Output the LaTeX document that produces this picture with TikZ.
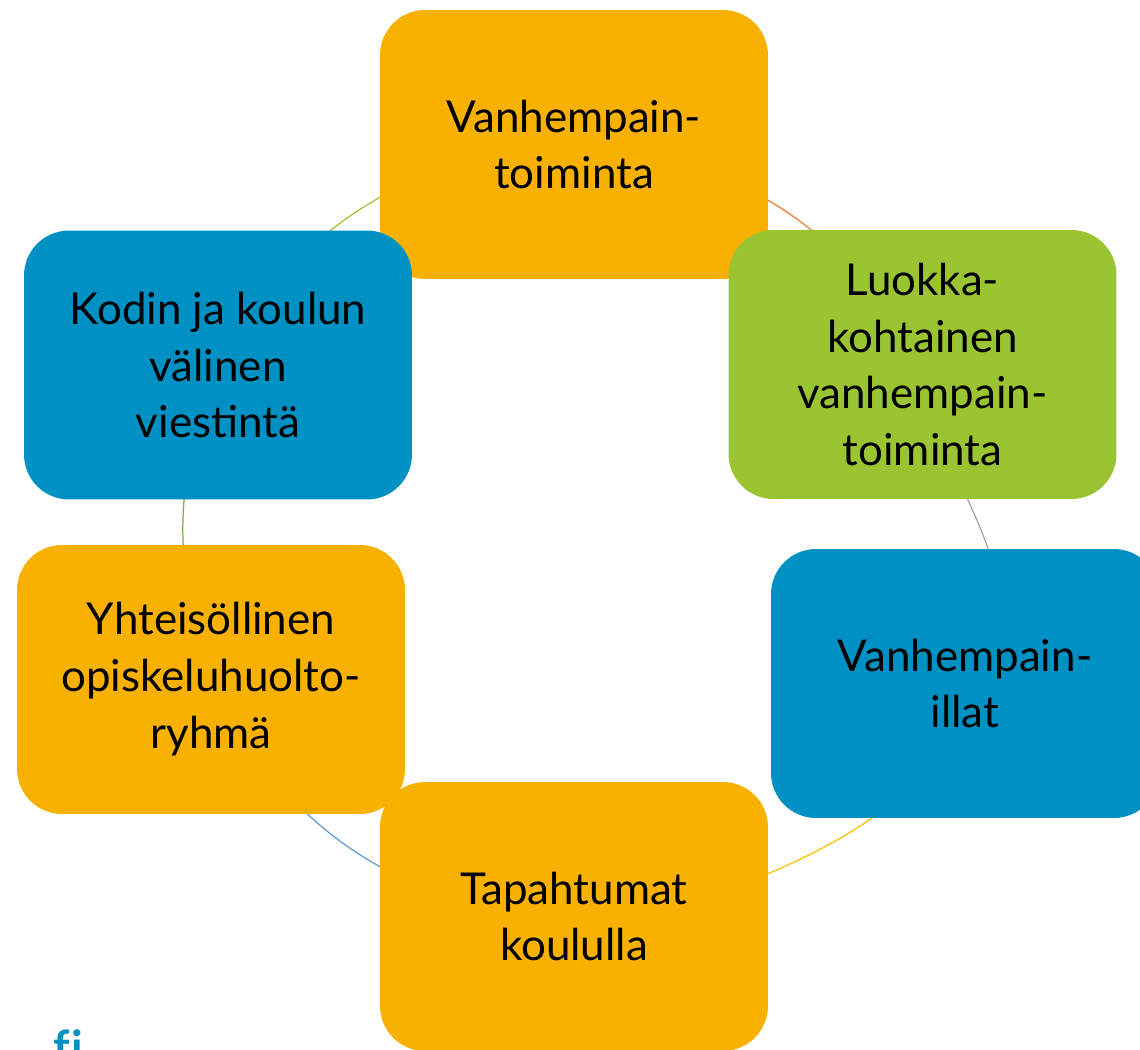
\documentclass[tikz,border=0pt]{standalone}
\usepackage{fontspec}
\setmainfont{Lato}
\usetikzlibrary{backgrounds}

\definecolor{boxorange}{RGB}{248,177,0}
\definecolor{boxblue}{RGB}{0,145,196}
\definecolor{boxgreen}{RGB}{154,196,49}
\definecolor{arcgreen}{RGB}{155,197,61}
\definecolor{arcorange}{RGB}{237,125,49}
\definecolor{arcgray}{RGB}{165,165,165}
\definecolor{arcyellow}{RGB}{255,192,0}
\definecolor{arcblue}{RGB}{91,155,213}
\definecolor{arcleaf}{RGB}{112,173,71}

\tikzset{
  cyclebox/.style={rectangle, rounded corners=0.9cm, minimum width=7.76cm,
    minimum height=5.38cm, inner sep=0pt, align=center,
    font=\fontsize{25}{32.4}\selectfont},
  orangebox/.style={cyclebox, fill=boxorange},
  bluebox/.style={cyclebox, fill=boxblue},
  greenbox/.style={cyclebox, fill=boxgreen},
  cyclearc/.style={line width=0.7pt}
}

\begin{document}
\begin{tikzpicture}[x=0.02cm,y=-0.02cm]
	% frame of the picture (in pixels)
	\useasboundingbox (0,0) rectangle (1140,1049);
	\clip (0,0) rectangle (1140,1049);

	%% the six boxes of the cycle
	\node[orangebox] (toiminta) at (574,144.5) {Vanhempain-\\toiminta};
	\node[greenbox] (luokka) at (922.5,364.5) {Luokka-\\kohtainen\\vanhempain-\\toiminta};
	\node[bluebox] (illat) at (965,683.5) {Vanhempain-\\illat};
	\node[orangebox] (tapahtumat) at (574,916.5) {Tapahtumat\\koululla};
	\node[orangebox] (ryhma) at (211,679.5) {Yhteisöllinen\\opiskeluhuolto-\\ryhmä};
	\node[bluebox] (viestinta) at (218,365) {Kodin ja koulun\\välinen\\viestintä};

	%% arcs of the circle, behind the boxes
	\begin{scope}[on background layer]
		\draw[cyclearc,arcorange] (toiminta.center) to[bend left=28] (luokka.center);
		\draw[cyclearc,arcgray] (luokka.center) .. controls +(4,110) and +(95,-95) .. (illat.center);
		\draw[cyclearc,arcyellow] (illat.center) .. controls +(10,116.5) and +(146,3.5) .. (tapahtumat.center);
		\draw[cyclearc,arcblue] (tapahtumat.center) to[bend left=31] (ryhma.center);
		\draw[cyclearc,arcleaf] (ryhma.center) to[bend left=20] (viestinta.center);
		\draw[cyclearc,arcgreen] (viestinta.center) to[bend left=28] (toiminta.center);
	\end{scope}

	% cut off logo in the corner
	\node[anchor=north west, inner sep=0pt, text=boxblue,
	  font=\fontsize{26}{26}\selectfont\bfseries] (logo) at (53,1029) {f\kern1pt{}i};
\end{tikzpicture}
\end{document}
